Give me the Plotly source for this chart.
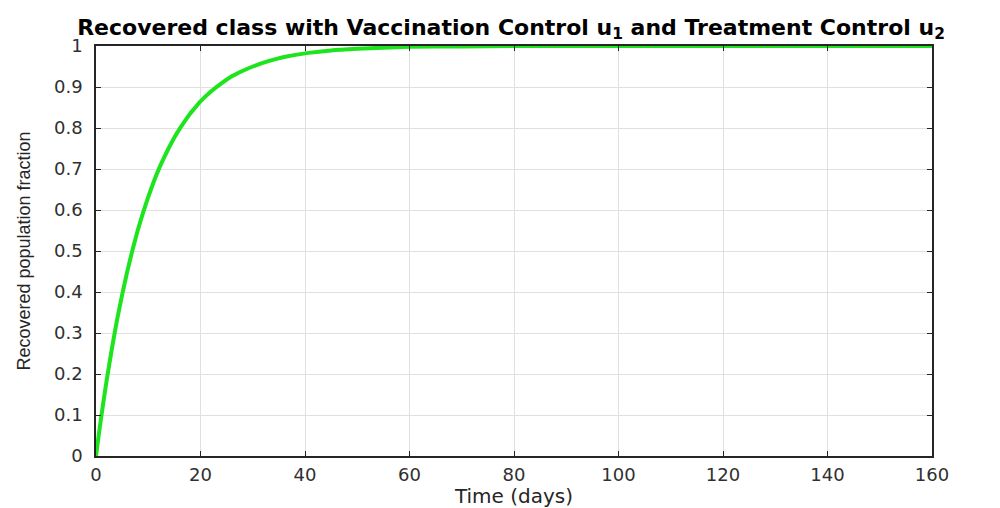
import plotly.graph_objects as go

# Recovered fraction over time (days)
time_days = [0, 0.5, 1, 1.5, 2, 3, 4, 5, 6, 7, 8, 9, 10, 11, 12, 13, 14, 15, 16, 17,
             18, 19, 20, 22, 24, 26, 28, 30, 33, 36, 40, 45, 50, 55, 60, 70, 80,
             90, 100, 110, 120, 130, 140, 150, 160]
recovered = [0.0, 0.049, 0.095, 0.139, 0.181, 0.259, 0.330, 0.393, 0.451, 0.503,
             0.551, 0.593, 0.632, 0.667, 0.699, 0.727, 0.753, 0.777, 0.798, 0.817,
             0.835, 0.850, 0.865, 0.889, 0.909, 0.926, 0.939, 0.950, 0.963, 0.973,
             0.982, 0.989, 0.993, 0.996, 0.998, 0.999, 1.0, 1.0, 1.0, 1.0, 1.0,
             1.0, 1.0, 1.0, 1.0]

x_ticks = [0, 20, 40, 60, 80, 100, 120, 140, 160]
y_ticks = [0, 0.1, 0.2, 0.3, 0.4, 0.5, 0.6, 0.7, 0.8, 0.9, 1.0]
y_tick_text = ["0", "0.1", "0.2", "0.3", "0.4", "0.5", "0.6", "0.7", "0.8", "0.9", "1"]

axis_color = "#262626"
tick_font = dict(family="DejaVu Sans", size=18, color="#303030")

fig = go.Figure()
fig.add_trace(go.Scatter(
    x=time_days, y=recovered, mode="lines",
    line=dict(color="rgb(30,228,30)", width=4, shape="spline", smoothing=0.5),
    showlegend=False,
))

fig.update_layout(
    width=1000, height=508,
    margin=dict(l=96, r=68, t=46, b=52),
    paper_bgcolor="white", plot_bgcolor="white",
    title=dict(
        text="<b>Recovered class with Vaccination Control u<sub>1</sub> and Treatment Control u<sub>2</sub></b>",
        x=0.511, xanchor="center", y=0.947, yanchor="middle",
        font=dict(family="DejaVu Sans", size=22, color="black"),
    ),
)

fig.update_xaxes(
    range=[0, 160], tickvals=x_ticks, ticks="inside", ticklen=5, tickcolor=axis_color,
    showline=True, linecolor=axis_color, linewidth=1.5, mirror="ticks",
    showgrid=True, gridcolor="#e0e0e0", gridwidth=1, zeroline=False,
    tickfont=tick_font, ticklabelstandoff=2, automargin=False,
    title=dict(text="Time (days)", font=dict(family="DejaVu Sans", size=20, color=axis_color), standoff=6),
)
fig.update_yaxes(
    range=[0, 1], tickvals=y_ticks, ticktext=y_tick_text, ticks="inside", ticklen=5,
    tickcolor=axis_color, showline=True, linecolor=axis_color, linewidth=1.5, mirror="ticks",
    showgrid=True, gridcolor="#e0e0e0", gridwidth=1, zeroline=False,
    tickfont=tick_font, ticklabelstandoff=8, automargin=False,
    title=dict(text="Recovered population fraction",
               font=dict(family="Liberation Sans", size=18, color=axis_color), standoff=19),
)

fig.write_html("out.html")
